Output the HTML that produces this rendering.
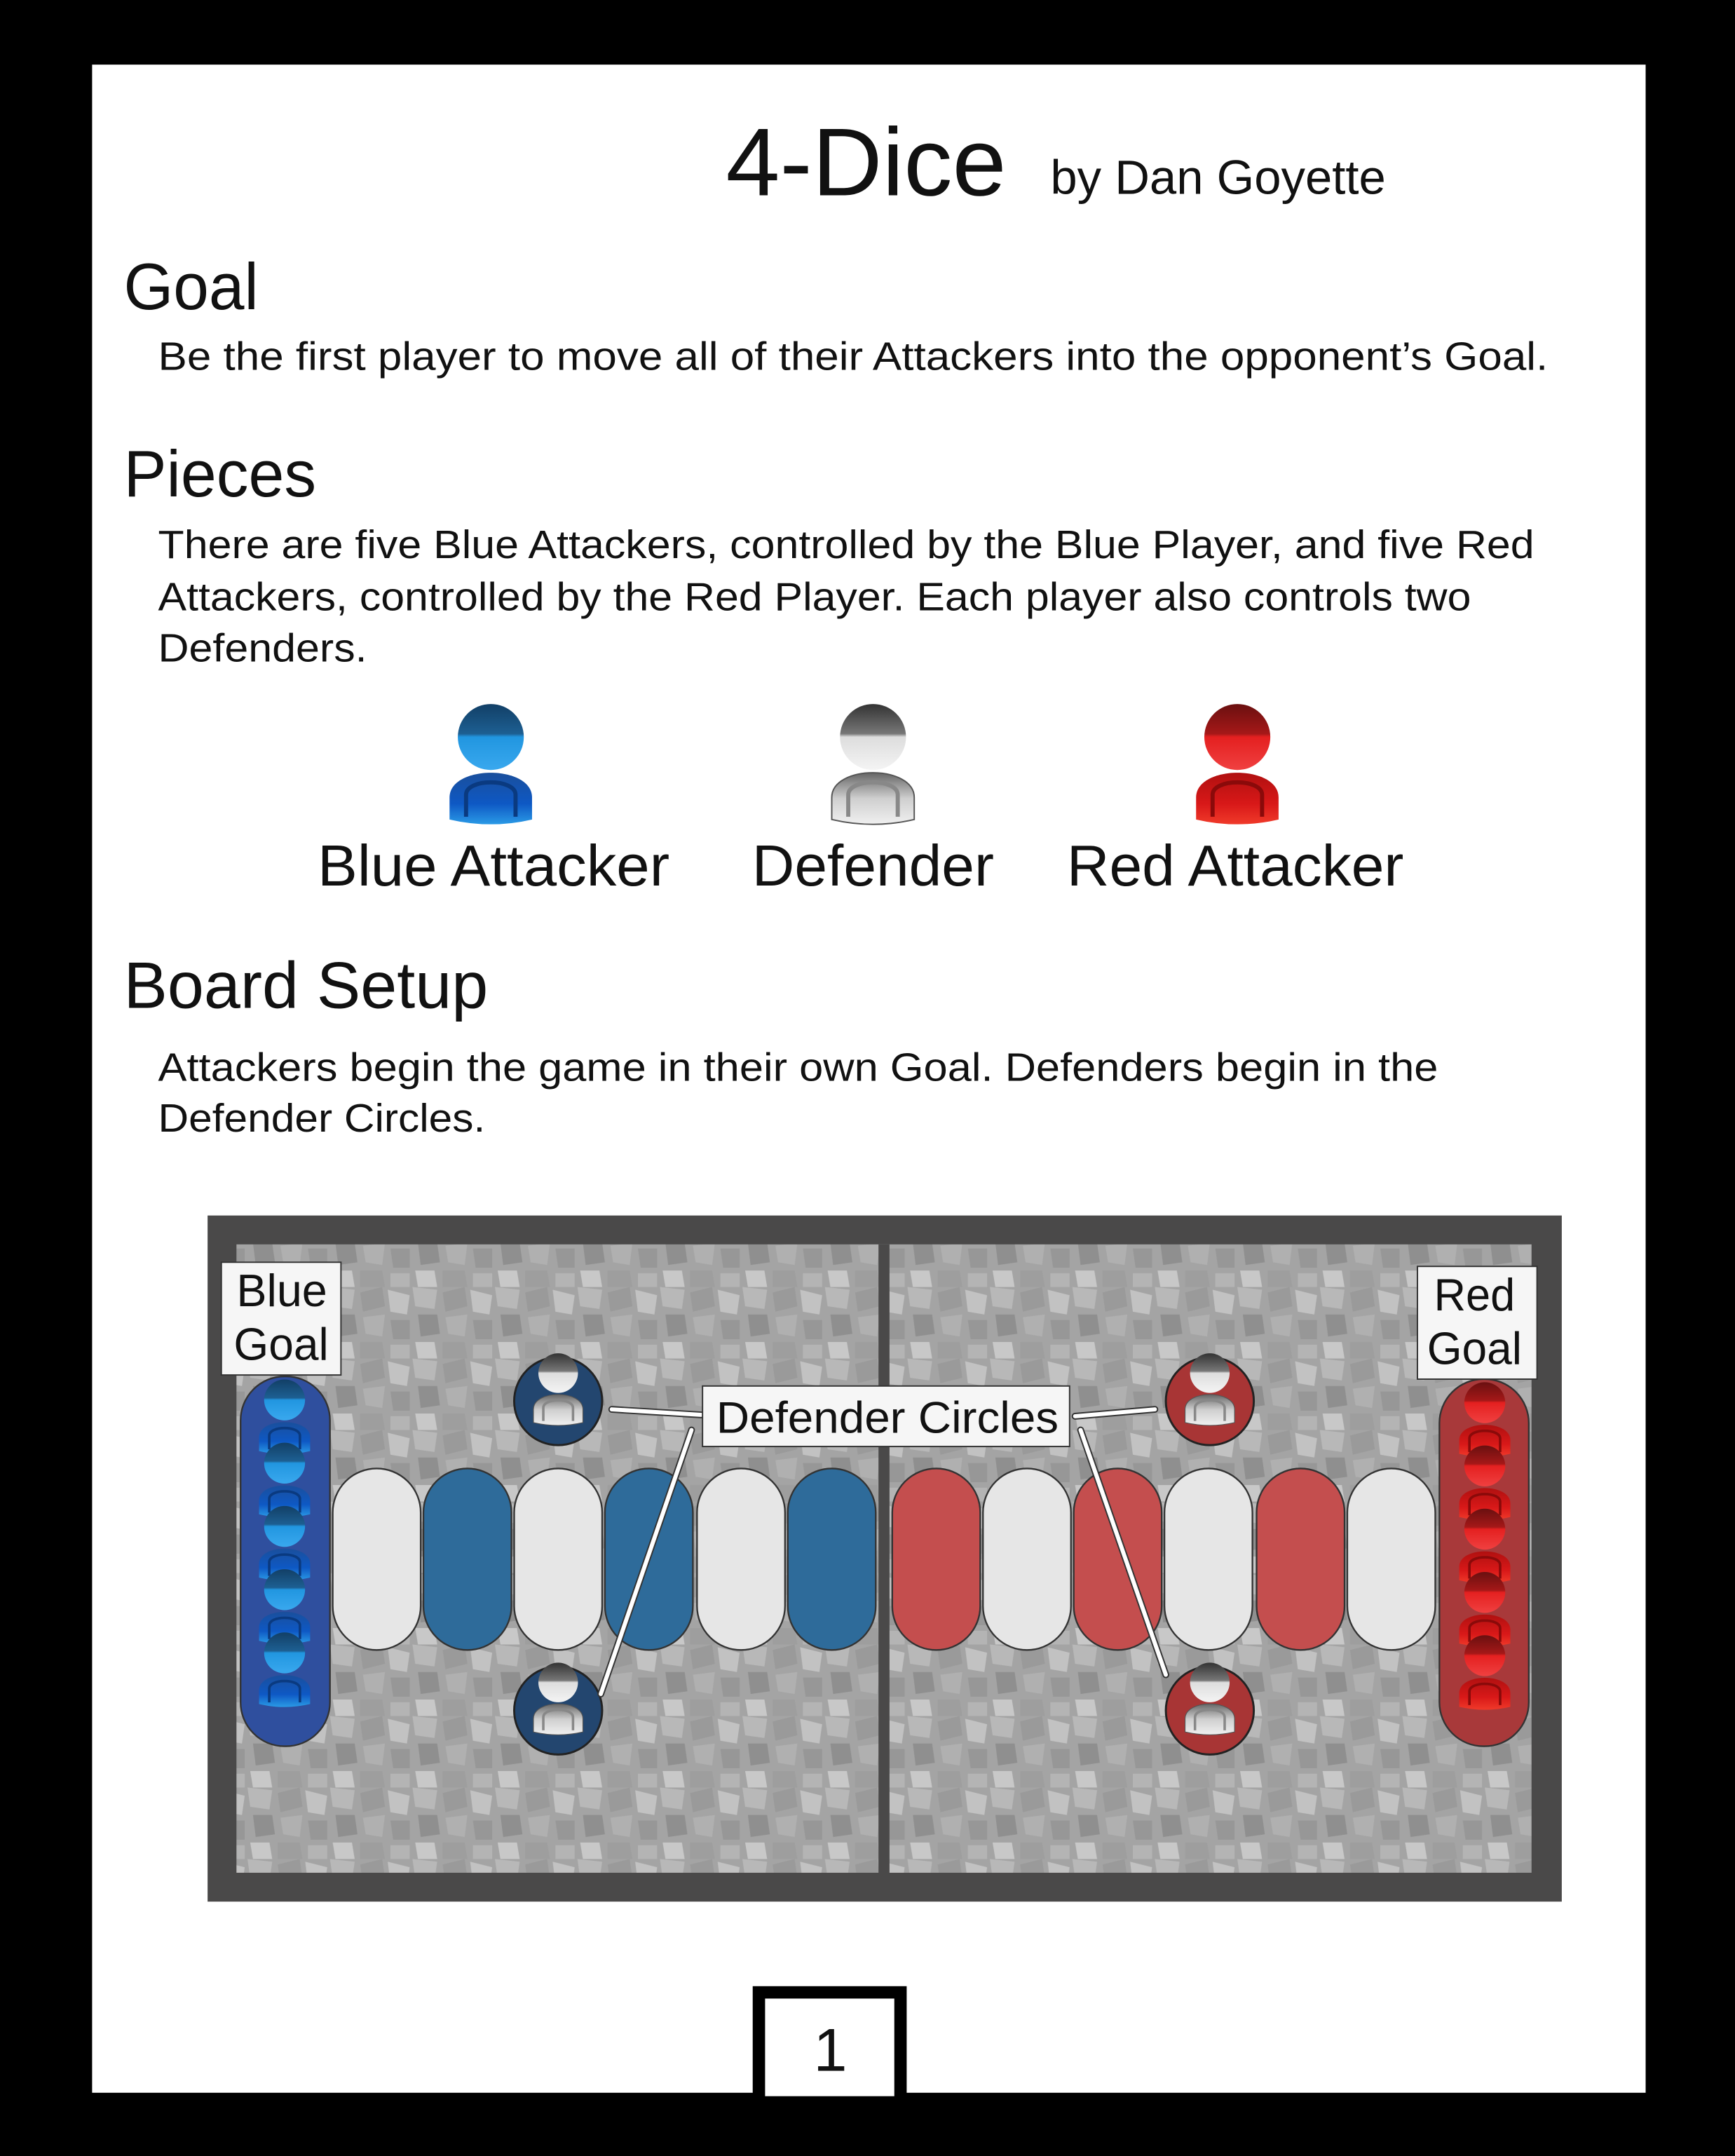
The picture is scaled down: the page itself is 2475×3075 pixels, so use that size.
<!DOCTYPE html>
<html><head><meta charset="utf-8"><style>
html,body{margin:0;padding:0;background:#000;}
svg{display:block;}
text{font-family:"Liberation Sans",sans-serif;fill:#111;}
</style></head><body>
<svg width="2475" height="3075" viewBox="0 0 1262 1568" preserveAspectRatio="none">
<defs>
 <linearGradient id="bh" x1="0" y1="0" x2="0" y2="1"><stop offset="0" stop-color="#123f66"/><stop offset="0.45" stop-color="#1d5f92"/><stop offset="0.5" stop-color="#2196e0"/><stop offset="1" stop-color="#39a8ee"/></linearGradient>
 <linearGradient id="bb" x1="0" y1="0" x2="0" y2="1"><stop offset="0" stop-color="#1a4f9c"/><stop offset="0.6" stop-color="#0e58c4"/><stop offset="1" stop-color="#2a9ae6"/></linearGradient>
 <linearGradient id="rh" x1="0" y1="0" x2="0" y2="1"><stop offset="0" stop-color="#6a1010"/><stop offset="0.45" stop-color="#a51818"/><stop offset="0.5" stop-color="#e42020"/><stop offset="1" stop-color="#f04040"/></linearGradient>
 <linearGradient id="rb" x1="0" y1="0" x2="0" y2="1"><stop offset="0" stop-color="#b01010"/><stop offset="0.6" stop-color="#d81818"/><stop offset="1" stop-color="#f03a2a"/></linearGradient>
 <linearGradient id="dh" x1="0" y1="0" x2="0" y2="1"><stop offset="0" stop-color="#333"/><stop offset="0.45" stop-color="#777"/><stop offset="0.5" stop-color="#ddd"/><stop offset="1" stop-color="#f4f4f4"/></linearGradient>
 <linearGradient id="db" x1="0" y1="0" x2="0" y2="1"><stop offset="0" stop-color="#666"/><stop offset="0.5" stop-color="#cfcfcf"/><stop offset="1" stop-color="#f0f0f0"/></linearGradient>
 <g id="pb"><path d="M-30,86 L-30,70 C-30,46 30,46 30,70 L30,86 Q0,93 -30,86 Z" fill="url(#bb)"/><path d="M-18,84 L-18,68 C-18,56 18,56 18,68 L18,84" fill="none" stroke="#0a3a80" stroke-width="3"/><circle cx="0" cy="26" r="24" fill="url(#bh)"/></g>
 <g id="pr"><path d="M-30,86 L-30,70 C-30,46 30,46 30,70 L30,86 Q0,93 -30,86 Z" fill="url(#rb)"/><path d="M-18,84 L-18,68 C-18,56 18,56 18,68 L18,84" fill="none" stroke="#8a0a0a" stroke-width="3"/><circle cx="0" cy="26" r="24" fill="url(#rh)"/></g>
 <g id="pd"><path d="M-30,86 L-30,70 C-30,46 30,46 30,70 L30,86 Q0,93 -30,86 Z" fill="url(#db)" stroke="#555" stroke-width="1"/><path d="M-18,84 L-18,68 C-18,56 18,56 18,68 L18,84" fill="none" stroke="#888" stroke-width="3"/><circle cx="0" cy="26" r="24" fill="url(#dh)"/></g>
 <pattern id="stone" width="60" height="52" patternUnits="userSpaceOnUse">
  <rect width="60" height="52" fill="#a4a4a4"/>
  <polygon points="0,0 18,2 16,16 2,14" fill="#b8b8b8"/>
  <polygon points="22,4 38,0 40,14 24,18" fill="#9a9a9a"/>
  <polygon points="42,2 58,6 56,20 44,18" fill="#c2c2c2"/>
  <polygon points="4,20 18,20 20,34 6,36" fill="#8f8f8f"/>
  <polygon points="24,22 40,20 38,36 26,34" fill="#b0b0b0"/>
  <polygon points="44,24 58,24 58,38 46,38" fill="#979797"/>
  <polygon points="2,40 16,40 18,52 4,52" fill="#c8c8c8"/>
  <polygon points="22,40 38,40 40,52 22,52" fill="#9e9e9e"/>
  <polygon points="44,42 58,42 58,52 44,52" fill="#b4b4b4"/>
 </pattern>
</defs>

<rect x="67" y="47" width="1130" height="1475" fill="#fff"/>

<text x="528" y="142" font-size="70" textLength="204" lengthAdjust="spacingAndGlyphs">4-Dice</text>
<text x="764" y="141" font-size="35" textLength="244" lengthAdjust="spacingAndGlyphs">by Dan Goyette</text>

<text x="90" y="225" font-size="48" textLength="98" lengthAdjust="spacingAndGlyphs">Goal</text>
<text x="115" y="269" font-size="29" textLength="1011" lengthAdjust="spacingAndGlyphs">Be the first player to move all of their Attackers into the opponent’s Goal.</text>

<text x="90" y="361" font-size="48" textLength="140" lengthAdjust="spacingAndGlyphs">Pieces</text>
<g>
<text x="115" y="406" font-size="29" textLength="1001" lengthAdjust="spacingAndGlyphs">There are five Blue Attackers, controlled by the Blue Player, and five Red</text>
<text x="115" y="444" font-size="29" textLength="955" lengthAdjust="spacingAndGlyphs">Attackers, controlled by the Red Player. Each player also controls two</text>
<text x="115" y="481" font-size="29" textLength="152" lengthAdjust="spacingAndGlyphs">Defenders.</text>
</g>

<use href="#pb" transform="translate(357,510)"/>
<use href="#pd" transform="translate(635,510)"/>
<use href="#pr" transform="translate(900,510)"/>
<text x="231" y="644" font-size="42" textLength="256" lengthAdjust="spacingAndGlyphs">Blue Attacker</text>
<text x="547" y="644" font-size="42" textLength="176" lengthAdjust="spacingAndGlyphs">Defender</text>
<text x="776" y="644" font-size="42" textLength="245" lengthAdjust="spacingAndGlyphs">Red Attacker</text>

<text x="90" y="733" font-size="48" textLength="265" lengthAdjust="spacingAndGlyphs">Board Setup</text>
<g>
<text x="115" y="786" font-size="29" textLength="931" lengthAdjust="spacingAndGlyphs">Attackers begin the game in their own Goal. Defenders begin in the</text>
<text x="115" y="823" font-size="29" textLength="238" lengthAdjust="spacingAndGlyphs">Defender Circles.</text>
</g>

<g>
 <rect x="151" y="884" width="985" height="499" fill="#4a4949"/>
 <rect x="172" y="905" width="942" height="457" fill="url(#stone)"/>
 <rect x="639" y="905" width="8" height="457" fill="#4a4949"/>
 <g stroke="#333" stroke-width="1.2">
  <rect x="242" y="1068" width="64" height="132" rx="32" fill="#e6e6e6"/>
  <rect x="308" y="1068" width="64" height="132" rx="32" fill="#2e6b9a"/>
  <rect x="374" y="1068" width="64" height="132" rx="32" fill="#e6e6e6"/>
  <rect x="440" y="1068" width="64" height="132" rx="32" fill="#2e6b9a"/>
  <rect x="507" y="1068" width="64" height="132" rx="32" fill="#e6e6e6"/>
  <rect x="573" y="1068" width="64" height="132" rx="32" fill="#2e6b9a"/>
  <rect x="649" y="1068" width="64" height="132" rx="32" fill="#c44e4e"/>
  <rect x="715" y="1068" width="64" height="132" rx="32" fill="#e6e6e6"/>
  <rect x="781" y="1068" width="64" height="132" rx="32" fill="#c44e4e"/>
  <rect x="847" y="1068" width="64" height="132" rx="32" fill="#e6e6e6"/>
  <rect x="914" y="1068" width="64" height="132" rx="32" fill="#c44e4e"/>
  <rect x="980" y="1068" width="64" height="132" rx="32" fill="#e6e6e6"/>
  <rect x="175" y="1001" width="65" height="269" rx="32" fill="#2f4f9e"/>
  <rect x="1047" y="1003" width="65" height="267" rx="32" fill="#a8393a"/>
 </g>
 <g stroke="#222" stroke-width="1.5">
  <circle cx="406" cy="1019" r="32" fill="#23466f"/>
  <circle cx="406" cy="1244" r="32" fill="#23466f"/>
  <circle cx="880" cy="1019" r="32" fill="#a83535"/>
  <circle cx="880" cy="1244" r="32" fill="#a83535"/>
 </g>
 <use href="#pd" transform="translate(406,983) scale(0.6)"/>
 <use href="#pd" transform="translate(406,1208) scale(0.6)"/>
 <use href="#pd" transform="translate(880,983) scale(0.6)"/>
 <use href="#pd" transform="translate(880,1208) scale(0.6)"/>
 <g>
  <use href="#pb" transform="translate(207,1002) scale(0.62)"/>
  <use href="#pb" transform="translate(207,1048) scale(0.62)"/>
  <use href="#pb" transform="translate(207,1094) scale(0.62)"/>
  <use href="#pb" transform="translate(207,1140) scale(0.62)"/>
  <use href="#pb" transform="translate(207,1186) scale(0.62)"/>
  <use href="#pr" transform="translate(1080,1004) scale(0.62)"/>
  <use href="#pr" transform="translate(1080,1050) scale(0.62)"/>
  <use href="#pr" transform="translate(1080,1096) scale(0.62)"/>
  <use href="#pr" transform="translate(1080,1142) scale(0.62)"/>
  <use href="#pr" transform="translate(1080,1188) scale(0.62)"/>
 </g>
 <g stroke="#333" stroke-width="5" stroke-linecap="round">
  <line x1="445" y1="1025" x2="510" y2="1029"/><line x1="503" y1="1040" x2="437" y2="1232"/>
  <line x1="782" y1="1030" x2="840" y2="1025"/><line x1="786" y1="1040" x2="848" y2="1218"/>
 </g>
 <g stroke="#fff" stroke-width="3" stroke-linecap="round">
  <line x1="445" y1="1025" x2="510" y2="1029"/><line x1="503" y1="1040" x2="437" y2="1232"/>
  <line x1="782" y1="1030" x2="840" y2="1025"/><line x1="786" y1="1040" x2="848" y2="1218"/>
 </g>
 <rect x="161" y="918" width="87" height="82" fill="#f6f6f6" stroke="#333" stroke-width="1"/>
 <text x="172" y="950" font-size="33" fill="#222" textLength="66" lengthAdjust="spacingAndGlyphs">Blue</text>
 <text x="170" y="989" font-size="33" fill="#222" textLength="69" lengthAdjust="spacingAndGlyphs">Goal</text>
 <rect x="1031" y="921" width="87" height="82" fill="#f6f6f6" stroke="#333" stroke-width="1"/>
 <text x="1043" y="953" font-size="33" fill="#222" textLength="59" lengthAdjust="spacingAndGlyphs">Red</text>
 <text x="1038" y="992" font-size="33" fill="#222" textLength="69" lengthAdjust="spacingAndGlyphs">Goal</text>
 <rect x="511" y="1008" width="267" height="44" fill="#f6f6f6" stroke="#333" stroke-width="1"/>
 <text x="521" y="1042" font-size="32" fill="#222" textLength="249" lengthAdjust="spacingAndGlyphs">Defender Circles</text>
</g>

<g>
 <rect x="552" y="1449" width="103" height="80" fill="#fff" stroke="#000" stroke-width="9"/>
 <text x="604" y="1506" font-size="44" text-anchor="middle">1</text>
</g>
</svg>
</body></html>
